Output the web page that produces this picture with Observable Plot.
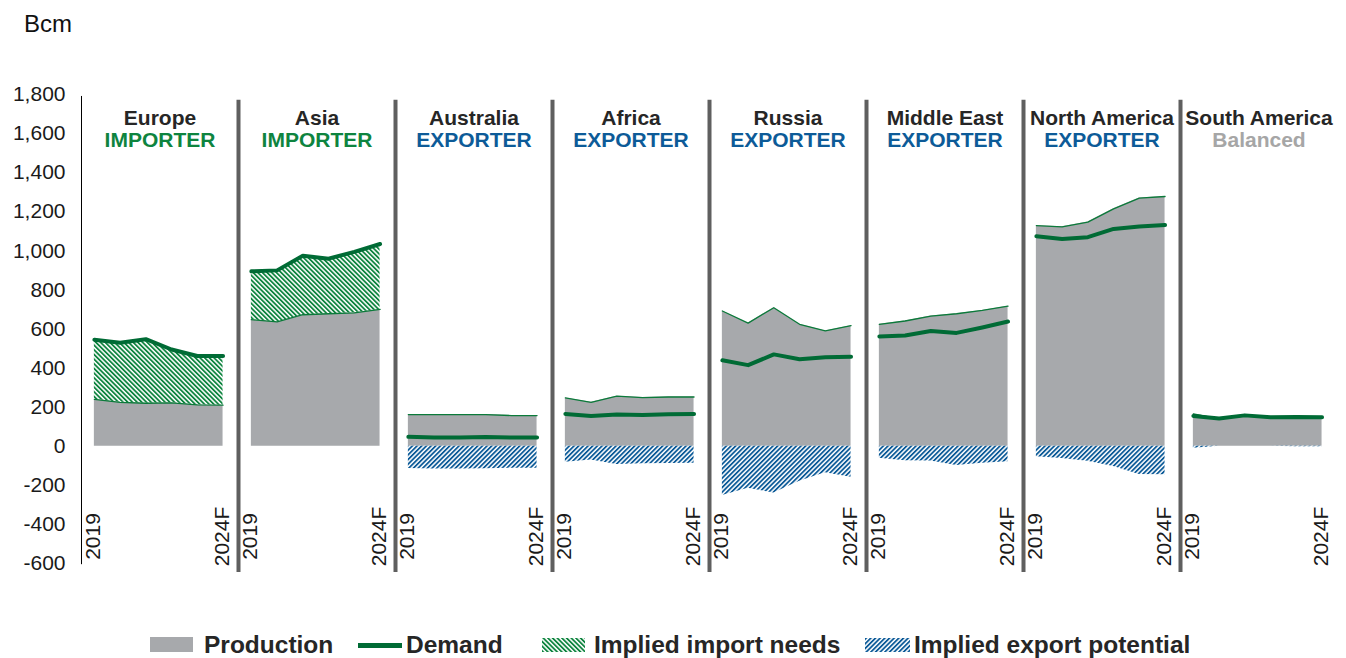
<!DOCTYPE html>
<html><head><meta charset="utf-8">
<script src="https://cdn.jsdelivr.net/npm/d3@7"></script>
<script src="https://cdn.jsdelivr.net/npm/@observablehq/plot@0.6"></script>
<style>
body{margin:0;background:#fff;font-family:"Liberation Sans",Arial,sans-serif;}
#wrap{position:relative;width:1346px;height:658px;overflow:hidden;}
#unit{height:50px;box-sizing:border-box;padding:9px 0 0 24px;font-size:24px;line-height:30px;color:#111;}
#legend{position:relative;height:68px;}
.sw{position:absolute;}
.lt{position:absolute;top:40px;font-size:24.5px;line-height:30px;font-weight:bold;color:#262626;white-space:nowrap;}
</style></head>
<body><div id="wrap"><div id="unit">Bcm</div><div id="chart"></div><div id="legend"></div></div>
<script>
const regions = ["Europe","Asia","Australia","Africa","Russia","Middle East","North America","South America"];
const roles = ["IMPORTER","IMPORTER","EXPORTER","EXPORTER","EXPORTER","EXPORTER","EXPORTER","Balanced"];
const years = ["2019","2020","2021","2022","2023","2024F"];
const yTicks = [-600,-400,-200,0,200,400,600,800,1000,1200,1400,1600,1800];

const europeProduction = [240, 225, 220, 222, 212, 210];
const europeDemand     = [545, 530, 548, 495, 462, 462];
const asiaProduction   = [648, 636, 673, 678, 683, 700];
const asiaDemand       = [895, 900, 975, 960, 995, 1035];
const australiaProduction = [162, 162, 162, 162, 157, 157];
const australiaDemand     = [48, 45, 45, 47, 45, 45];
const africaProduction = [247, 225, 256, 249, 252, 252];
const africaDemand     = [165, 155, 163, 160, 164, 165];
const russiaProduction = [692, 630, 709, 624, 590, 617];
const russiaDemand     = [440, 415, 470, 445, 455, 458];
const middleEastProduction = [624, 641, 666, 678, 695, 717];
const middleEastDemand     = [562, 567, 590, 580, 608, 638];
const northAmericaProduction = [1129, 1123, 1147, 1215, 1270, 1278];
const northAmericaDemand     = [1075, 1060, 1070, 1112, 1125, 1132];
const southAmericaProduction = [165, 140, 156, 147, 152, 150];
const southAmericaDemand     = [155, 142, 158, 148, 150, 148];

const legendLabels = ["Production","Demand","Implied import needs","Implied export potential"];

const productionSeries = [europeProduction, asiaProduction, australiaProduction, africaProduction, russiaProduction, middleEastProduction, northAmericaProduction, southAmericaProduction];
const demandSeries = [europeDemand, asiaDemand, australiaDemand, africaDemand, russiaDemand, middleEastDemand, northAmericaDemand, southAmericaDemand];

const rows = [];
regions.forEach((r, k) => years.forEach((y, i) => rows.push({
  region: r, i, year: y, production: productionSeries[k][i], demand: demandSeries[k][i]
})));

const C = {
  gray: "#a7a9ac", demand: "#006b35", thin: "#0b7a3a",
  importGreen: "#0e843f", exportBlue: "#0d5b98", sep: "#5f5f5f", text: "#262626", balanced: "#a6a6a6"
};
const roleColor = {IMPORTER: C.importGreen, EXPORTER: C.exportBlue, Balanced: C.balanced};
const xDomain = [-0.5, 5.6];
const sepTop = 1770, sepBottom = -646, axisTop = 1790, axisBottom = -606;

const roleMarks = Object.keys(roleColor).map(role =>
  Plot.text(regions.filter((r, k) => roles[k] === role), {
    fx: d => d, x: () => 2.55, frameAnchor: "top", dy: 46, lineAnchor: "middle",
    text: d => roles[regions.indexOf(d)], fontWeight: "bold", fontSize: 21, fill: roleColor[role]
  })
);

const chart = Plot.plot({
  width: 1346, height: 540,
  marginTop: 44, marginBottom: 27, marginLeft: 78, marginRight: 6,
  style: {fontFamily: "'Liberation Sans', Arial, sans-serif", fontSize: "20px", color: "#1a1a1a", background: "white"},
  fx: {domain: regions, padding: 0, axis: null},
  x: {type: "linear", domain: xDomain, axis: null},
  y: {domain: [-600, 1800], axis: null},
  marks: [
    Plot.areaY(rows, {fx: "region", x: "i", y1: 0, y2: "production", fill: C.gray}),
    Plot.areaY(rows, {fx: "region", x: "i", y1: "production", y2: d => Math.max(d.production, d.demand), fill: "url(#importHatch)"}),
    Plot.areaY(rows, {fx: "region", x: "i", y1: 0, y2: d => -Math.max(d.production - d.demand, 0), fill: "url(#exportHatch)"}),
    Plot.lineY(rows, {fx: "region", x: "i", y: "production", stroke: C.thin, strokeWidth: 1.3}),
    Plot.lineY(rows, {fx: "region", x: "i", y: "demand", stroke: C.demand, strokeWidth: 4, strokeLinejoin: "round"}),
    Plot.ruleX(regions.slice(1), {fx: d => d, x: () => xDomain[0], y1: sepBottom, y2: sepTop, stroke: C.sep, strokeWidth: 4}),
    Plot.ruleX(regions.slice(0, 1), {fx: d => d, x: () => xDomain[0], y1: axisBottom, y2: axisTop, stroke: "#000", strokeWidth: 1}),
    Plot.axisY({ticks: yTicks, tickSize: 0, tickPadding: 16, fontSize: 21, tickFormat: d => d.toLocaleString("en-US")}),
    Plot.text(regions, {fx: d => d, x: () => 2.55, frameAnchor: "top", dy: 24, lineAnchor: "middle",
      text: d => d, fontWeight: "bold", fontSize: 21, fill: C.text}),
    ...roleMarks,
    Plot.text(rows.filter(d => d.i === 0 || d.i === years.length - 1), {fx: "region", x: "i", frameAnchor: "bottom", dy: -27, dx: -1,
      rotate: -90, text: "year", textAnchor: "middle", lineAnchor: "middle", fontSize: 21, fill: "#1a1a1a"})
  ]
});

const NS = "http://www.w3.org/2000/svg";
const defs = document.createElementNS(NS, "defs");
defs.innerHTML = `
<pattern id="importHatch" patternUnits="userSpaceOnUse" width="3.3" height="3.3" patternTransform="rotate(-45)">
  <rect width="3.3" height="3.3" fill="#fff"/><rect width="1.8" height="3.3" fill="${C.importGreen}"/>
</pattern>
<pattern id="exportHatch" patternUnits="userSpaceOnUse" width="3.3" height="3.3" patternTransform="rotate(45)">
  <rect width="3.3" height="3.3" fill="#fff"/><rect width="1.8" height="3.3" fill="${C.exportBlue}"/>
</pattern>`;
chart.prepend(defs);
document.getElementById("chart").appendChild(chart);

// legend
const lg = document.getElementById("legend");
function swatch(left, top, w, h, fill) {
  const s = document.createElementNS(NS, "svg");
  s.setAttribute("class", "sw"); s.setAttribute("width", w); s.setAttribute("height", h);
  s.style.left = left + "px"; s.style.top = top + "px";
  const r = document.createElementNS(NS, "rect");
  r.setAttribute("width", w); r.setAttribute("height", h); r.setAttribute("fill", fill);
  s.appendChild(r); lg.appendChild(s);
}
function label(left, text) {
  const d = document.createElement("div");
  d.className = "lt"; d.style.left = left + "px"; d.textContent = text; lg.appendChild(d);
}
swatch(150, 47, 43, 15, C.gray);   label(204, legendLabels[0]);
swatch(358, 53, 44, 5, C.demand);  label(406, legendLabels[1]);
swatch(542, 48, 43, 14, "url(#importHatch)"); label(594, legendLabels[2]);
swatch(865, 48, 45, 14, "url(#exportHatch)"); label(914, legendLabels[3]);
</script>
</body></html>
